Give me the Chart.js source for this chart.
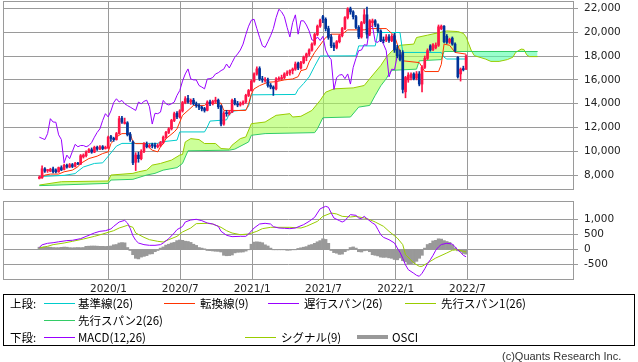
<!DOCTYPE html>
<html>
<head>
<meta charset="utf-8">
<script src="https://cdn.jsdelivr.net/npm/chart.js@4.4.0/dist/chart.umd.min.js"></script>
<style>
  body { margin: 0; width: 638px; height: 362px; background: #fff; position: relative; overflow: hidden;
         font-family: "Noto Sans CJK JP", sans-serif; }
  canvas { position: absolute; left: 0; }
  #price { top: 0; }
  #macd { top: 195px; }
  .legend { position: absolute; left: 3px; top: 294px; width: 632px; height: 52px; border: 1px solid #000; box-sizing: border-box; }
  .legend span { position: absolute; font-size: 11.5px; line-height: 14px; white-space: nowrap; color: #000; }
  .legend i { position: absolute; width: 31px; height: 1px; }
  .copy { position: absolute; left: 502px; top: 350px; font: 11px "Liberation Sans", sans-serif; color: #333; }
</style>
</head>
<body>
<canvas id="price" width="638" height="195"></canvas>
<canvas id="macd" width="638" height="100"></canvas>

<div class="legend">
  <span style="left:6px;top:1px">上段:</span>
  <i style="left:40px;top:8px;background:#00cccc"></i><span style="left:74px;top:1px">基準線(26)</span>
  <i style="left:160px;top:8px;background:#ff3300"></i><span style="left:196px;top:1px">転換線(9)</span>
  <i style="left:264px;top:8px;background:#9900ff"></i><span style="left:300px;top:1px">遅行スパン(26)</span>
  <i style="left:401px;top:8px;background:#99cc00"></i><span style="left:437px;top:1px">先行スパン1(26)</span>
  <i style="left:40px;top:25px;background:#33cc66"></i><span style="left:74px;top:18px">先行スパン2(26)</span>
  <span style="left:6px;top:35px">下段:</span>
  <i style="left:40px;top:42px;background:#9900ff"></i><span style="left:74px;top:35px">MACD(12,26)</span>
  <i style="left:241px;top:42px;background:#99cc00"></i><span style="left:277px;top:35px">シグナル(9)</span>
  <i style="left:353px;top:40px;height:4px;background:#999"></i><span style="left:388px;top:35px">OSCI</span>
</div>
<div class="copy">(c)Quants Research Inc.</div>

<script>
// weekly candles, index 0 = first week of July 2019
const opens = [
  7750,7800,8550,8400,8350,8550,8450,8300,8650,8500,
  8850,8700,8900,8750,9000,8950,9550,9650,9950,10150,
  9950,10350,10200,10400,10250,10300,11250,11100,11000,11500,
  12800,12350,12400,11450,10800,9100,9700,9400,10000,10600,
  10400,10550,10550,10400,10500,10750,11200,11600,11900,12600,
  13200,12900,13400,14100,14450,14150,14300,14000,13850,13720,
  13600,13450,14150,14000,14200,14300,13800,12300,13200,13150,
  13300,14300,14000,13900,14000,14150,14700,15100,15900,16500,
  16950,16080,15950,16000,15550,15400,15250,16050,16100,16200,
  16500,16600,16780,16900,17400,17000,17450,17900,18170,18500,
  19000,19800,20500,21300,21080,20300,19600,18900,18720,19200,
  19700,20300,21220,21950,21700,21300,20400,19600,20800,21450,
  19830,20800,20950,20600,20100,19350,19350,19600,19300,19700,
  18600,18100,18300,15000,16000,16200,16500,16150,16500,15650,
  17050,17800,18850,18550,18700,18900,20300,20500,19650,19150,
  19500,19000,17900,16500,16950,16900
];
const highs = [
  7950,8800,8650,8500,8600,8700,8550,8700,8800,8950,
  8950,9000,9000,9100,9100,9750,9800,10050,10250,10300,
  10450,10450,10500,10500,10450,11300,11350,11200,11600,12950,
  12950,12800,12500,11600,10900,9900,9950,10150,10750,10800,
  10650,10700,10700,10650,10850,11300,11700,12000,12700,13300,
  13350,13500,14200,14600,14700,14400,14450,14150,14000,13800,
  13700,14250,14300,14300,14550,14400,13900,13350,13450,13450,
  14400,14450,14200,14150,14250,14800,15200,16000,16600,17100,
  17100,16300,16200,16150,15700,15500,16200,16250,16400,16600,
  16750,16850,17000,17500,17500,17550,18000,18250,18600,19100,
  19900,20600,21100,21400,21200,20500,19800,19100,19300,19800,
  20400,21300,22050,22100,21800,21400,20550,20900,21900,22100,
  21050,21100,21050,20700,20200,19600,19800,19800,19800,19900,
  18900,18500,18450,16300,16600,16600,16600,16700,16700,17200,
  18000,18600,18950,19050,19100,20600,20600,20550,19800,19500,
  19600,19100,17950,17000,17150,18100
];
const lows = [
  7700,7750,8250,8250,8300,8200,8200,8250,8400,8450,
  8600,8650,8650,8700,8900,8900,9450,9550,9900,9850,
  9900,10100,10150,10150,10200,10250,10850,10850,10950,11450,
  12350,12300,11300,10850,8900,8400,9100,9300,9900,10300,
  10300,10300,10250,10300,10400,10650,11100,11500,11800,12500,
  12750,12800,13300,14000,14050,13950,13900,13700,13500,13400,
  13300,13400,13850,13900,14100,13600,12150,12200,12950,13050,
  13250,13900,13750,13800,13900,14050,14600,15050,15800,16400,
  15950,15800,15800,15400,15250,14700,15150,15950,16000,16100,
  16350,16400,16500,16800,16850,16900,17350,17600,18000,18400,
  18900,19700,20400,20800,20100,19400,18700,18450,18600,19100,
  19600,20200,21100,21500,21100,20300,19450,19500,20700,19500,
  19700,20500,20450,19950,19200,19100,19200,19150,19200,18300,
  17850,17600,14900,14500,15800,16000,16000,16000,15500,15000,
  16950,17700,18400,18450,18600,18800,20200,19100,19050,19050,
  18900,18350,16150,15900,16750,16850
];
const closes = [
  7850,8550,8350,8400,8500,8300,8300,8650,8450,8850,
  8700,8900,8750,9000,8950,9650,9700,9950,10150,9950,
  10350,10200,10400,10250,10350,11200,11100,11000,11500,12750,
  12470,12450,11400,11000,9050,9700,9400,10000,10600,10400,
  10500,10500,10400,10500,10750,11200,11600,11900,12600,13170,
  12900,13400,14100,14420,14150,14280,14000,13850,13720,13580,
  13440,14140,14000,14200,14300,13750,12300,13200,13170,13300,
  14280,14000,13900,14000,14140,14700,15110,15900,16500,16920,
  16080,16000,16000,15530,15400,15250,16080,16100,16200,16500,
  16600,16780,16900,17330,17000,17450,17900,18170,18500,19000,
  19800,20500,21000,21080,20300,19560,18860,18720,19200,19700,
  20300,21220,21920,21700,21300,20400,19600,20800,21450,19830,
  20950,20950,20600,20100,19350,19280,19600,19300,19650,18500,
  18000,17700,15200,16200,16400,16450,16100,16500,15650,17050,
  17800,18450,18500,18950,18900,20450,20500,19200,19150,19400,
  19000,18450,16250,16900,16850,18000
];

// ichimoku lines as [week, value] vertices
const kijun = [
  [0,7900],[9,8000],[13,8150],[14,8350],[16,8700],[20,9000],[23,9050],[25,9600],[28,10450],[30,10680],
  [43,10680],[44,10800],[50,10950],[51,11640],[60,11640],[61,12050],[62,12550],[68,12650],[69,13150],
  [71,13400],[75,13500],[76,13800],[77,14750],[93,14780],[94,15200],[96,15700],[98,16250],[100,17150],
  [102,18000],[115,18020],[116,18850],[122,18850],[123,19970],[131,19970],[132,18300],[146,18300],
  [147,17900],[148,17750],[155,17750]
];
const tenkan = [
  [0,7750],[2,8020],[4,8110],[7,8110],[9,8300],[12,8440],[14,8720],[15,9000],[18,9410],[21,9610],
  [23,9830],[25,9970],[26,10660],[28,11220],[30,11500],[33,11500],[34,10800],[35,10660],[39,10660],
  [40,10300],[41,10110],[43,9970],[44,10390],[45,10660],[46,11080],[49,11640],[50,11900],[52,13030],
  [54,13440],[56,13860],[60,13860],[61,14050],[66,14050],[67,13440],[75,13440],[76,13990],[77,14830],
  [78,15250],[80,15520],[83,15800],[86,15850],[89,16000],[92,16080],[94,16270],[95,16770],[97,16900],
  [98,17500],[100,18300],[104,19550],[106,19830],[110,19830],[112,20190],[118,20190],[120,20300],
  [126,20300],[127,20100],[129,19690],[130,19000],[131,18400],[132,17600],[138,17450],[140,16700],
  [145,16700],[146,17300],[147,19000],[149,18900],[151,18300],[155,18160]
];
const spanOne = [
  [0,7190],[8,7470],[25,7530],[26,8030],[34,8170],[36,8300],[39,8440],[41,8860],[44,9000],[48,9280],
  [51,9700],[52,9750],[53,10800],[55,11080],[58,11000],[60,10670],[64,10670],[66,10250],[69,10200],
  [70,10530],[73,11080],[75,11220],[77,12330],[82,12470],[86,13030],[91,13170],[92,12890],[95,12950],
  [99,13440],[102,14280],[104,14970],[107,15250],[114,15330],[118,15530],[120,16100],[124,17200],
  [126,17900],[128,18400],[131,18900],[136,19000],[137,19550],[141,19750],[145,19950],[148,20100],
  [152,20050],[154,19900],[155,19600],[156,19000],[157,18400],[158,18030],[162,17750],[164,17550],
  [167,17550],[170,17700],[172,17900],[173,18300],[175,18580],[176,18550],[177,18100],[178,17950],
  [181,17950]
];
const spanTwo = [
  [0,7140],[25,7330],[26,7610],[34,7670],[39,8030],[42,8170],[45,8440],[50,8650],[52,9000],[54,10060],
  [69,10110],[71,10200],[76,10800],[77,11360],[82,11500],[100,11580],[101,11900],[103,12830],
  [113,12890],[116,13720],[120,13860],[122,14700],[124,15500],[126,16100],[127,16500],[128,16800],
  [137,16900],[138,17600],[146,17700],[147,18380],[181,18380]
];

// lower panel
const macd = [
  [0,66],[1,150],[3,200],[5,220],[7,250],[10,290],[12,300],[15,355],[17,430],[20,545],[22,600],[24,620],
  [26,680],[27,765],[29,910],[31,965],[32,877],[33,700],[34,450],[35,300],[36,210],[38,155],[40,133],
  [42,133],[44,155],[45,210],[47,355],[49,545],[50,655],[52,760],[53,910],[55,977],[57,1000],[59,955],
  [61,877],[63,843],[65,765],[66,600],[68,466],[70,422],[73,433],[75,433],[76,510],[78,710],[80,843],
  [82,866],[84,843],[85,755],[87,710],[89,700],[91,688],[93,710],[96,822],[98,932],[100,1066],
  [101,1210],[102,1350],[104,1432],[105,1400],[106,1210],[107,1043],[109,955],[110,910],[111,955],
  [112,1066],[113,1155],[115,1132],[116,1043],[117,1021],[118,1100],[119,1021],[121,877],[122,822],
  [123,655],[124,488],[125,399],[127,321],[129,210],[130,44],[131,-100],[132,-300],[133,-520],
  [134,-678],[136,-800],[137,-867],[138,-900],[139,-800],[140,-650],[141,-480],[142,-350],[143,-200],
  [144,-30],[145,80],[146,160],[148,200],[150,177],[151,80],[152,-20],[153,-100],[154,-200],[155,-250]
];
const signal = [
  [0,44],[3,100],[5,155],[9,210],[12,266],[16,343],[20,432],[23,510],[27,621],[29,710],[32,799],
  [34,732],[35,543],[38,399],[40,321],[43,266],[45,244],[47,321],[50,432],[52,577],[55,710],[57,855],
  [61,866],[63,843],[66,732],[68,621],[70,543],[73,488],[76,510],[79,599],[81,688],[84,732],[91,732],
  [95,710],[97,766],[101,932],[103,1099],[106,1210],[108,1177],[110,1099],[113,1077],[115,1099],
  [118,1043],[120,988],[122,910],[125,766],[127,599],[130,377],[132,155],[133,-178],[136,-456],
  [138,-568],[139,-568],[141,-456],[144,-290],[148,-122],[150,-33],[152,-11],[154,-67],[155,-89]
];
const osci = [
  70,75,80,75,70,60,55,55,65,75,
  70,55,50,55,60,55,60,100,105,110,
  110,105,100,100,95,100,110,150,160,210,
  225,215,60,-40,-180,-300,-320,-260,-235,-210,
  -160,-150,-80,-40,40,80,140,170,210,230,
  290,310,300,270,260,230,170,130,60,40,
  10,-40,-45,-55,-65,-70,-90,-200,-215,-210,
  -190,-120,-100,-95,-90,-60,-10,170,240,250,
  240,220,150,110,40,-10,-15,-10,-5,-15,
  -35,-30,-15,-5,30,50,70,90,140,160,
  200,250,290,350,330,200,-40,-110,-130,-170,
  -160,-80,-30,60,80,40,-80,-90,-50,-40,
  -80,-180,-200,-220,-260,-270,-265,-285,-300,-340,
  -350,-290,-380,-420,-500,-510,-460,-400,-300,-200,
  40,160,200,280,300,350,340,290,260,230,
  150,50,-50,-80,-140,-160
];

const weekTicks = [25.1, 51.2, 77.3, 103.2, 129.4, 155.5];
const weekLabels = ['2020/1', '2020/7', '2021/1', '2021/7', '2022/1', '2022/7'];
const priceTicks = [8000, 10000, 12000, 14000, 16000, 18000, 20000, 22000];
const macdTicks = [-500, 0, 500, 1000];

const GRID = '#9a9a9a';
const UP = '#ff1447';
const DOWN = '#003399';
const tickFont = { family: 'DejaVu Sans', size: 10.5 };

const pts = arr => arr.map(([x, y]) => ({ x, y }));
const candleColors = closes.map((c, i) => (c >= opens[i] ? UP : DOWN));
const line = (data, color, order) => ({
  type: 'line', data, borderColor: color, borderWidth: 1, pointRadius: 0, fill: false, order
});

const frame = {
  id: 'frame',
  beforeDatasetsDraw(chart) {
    const { ctx, chartArea: a } = chart;
    ctx.save();
    ctx.strokeStyle = GRID;
    ctx.lineWidth = 1;
    ctx.strokeRect(a.left + 0.5, a.top + 0.5, a.right - a.left - 1, a.bottom - a.top - 1);
    ctx.restore();
  }
};

const xScale = (showLabels, height) => ({
  type: 'linear', min: -13.2, max: 194.2, offset: false,
  grid: { color: GRID, drawTicks: false, offset: false },
  border: { display: false },
  ticks: {
    display: showLabels, autoSkip: false, maxRotation: 0, padding: 3,
    color: '#222', font: tickFont,
    callback: (v, i) => weekLabels[i]
  },
  afterBuildTicks: s => { s.ticks = weekTicks.map(value => ({ value })); },
  afterFit: s => { s.height = height; s.paddingLeft = 0; s.paddingRight = 0; }
});

const yScale = (min, max, ticks) => ({
  position: 'right', min, max,
  grid: { color: GRID, tickLength: 4 },
  border: { display: false },
  ticks: { padding: 6, color: '#222', font: tickFont, callback: v => v.toLocaleString('en-US') },
  afterBuildTicks: s => { s.ticks = ticks.map(value => ({ value })); },
  afterFit: s => { s.width = 64; s.paddingTop = 0; s.paddingBottom = 0; }
});

const common = {
  responsive: false,
  animation: false,
  devicePixelRatio: 1,
  plugins: { legend: { display: false }, tooltip: { enabled: false } }
};

new Chart(document.getElementById('price'), {
  type: 'bar',
  data: {
    datasets: [
      Object.assign(line(pts(spanOne), '#99cc00', 10), {
        fill: { target: 1, above: 'rgba(170,255,85,0.6)', below: 'rgba(85,255,170,0.6)' }
      }),
      line(pts(spanTwo), '#33cc66', 9),
      line(pts(kijun), '#00cccc', 6),
      line(pts(tenkan), '#ff3300', 5),
      line(closes.slice(25).map((c, i) => ({ x: i, y: c })), '#9900ff', 4),
      {
        type: 'bar', order: 2, grouped: false, barThickness: 1,
        data: highs.map((h, i) => ({ x: i, y: [lows[i], h] })),
        backgroundColor: candleColors
      },
      {
        type: 'bar', order: 1, grouped: false, barThickness: 2, minBarLength: 1,
        data: opens.map((o, i) => ({ x: i, y: [o, closes[i]] })),
        backgroundColor: candleColors
      }
    ]
  },
  options: Object.assign({}, common, {
    layout: { padding: { left: 3, top: 1, right: 0, bottom: 0 } },
    scales: { x: xScale(false, 5), y: yScale(6775, 22610, priceTicks) }
  }),
  plugins: [frame]
});

new Chart(document.getElementById('macd'), {
  type: 'bar',
  data: {
    datasets: [
      line(pts(macd), '#9900ff', 1),
      line(pts(signal), '#99cc00', 2),
      {
        type: 'bar', order: 3, grouped: false, barPercentage: 1, categoryPercentage: 1,
        data: osci.map((v, i) => ({ x: i, y: v })),
        backgroundColor: '#999999'
      }
    ]
  },
  options: Object.assign({}, common, {
    layout: { padding: { left: 3, top: 6, right: 0, bottom: 0 } },
    scales: { x: xScale(true, 15), y: yScale(-1023, 1610, macdTicks) }
  }),
  plugins: [frame]
});
</script>
</body>
</html>
